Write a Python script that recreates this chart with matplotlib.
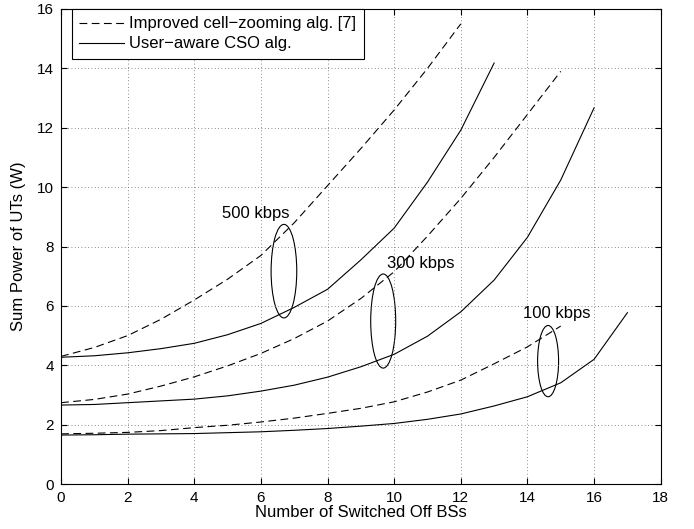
import numpy as np
import matplotlib.pyplot as plt
from matplotlib.patches import Ellipse

plt.rcParams['font.family'] = ['Liberation Sans', 'DejaVu Sans']
plt.rcParams['font.size'] = 12

# 500 kbps
x500_d = np.arange(0, 13)
y500_d = [4.3, 4.6, 5.0, 5.55, 6.2, 6.9, 7.7, 8.8, 10.05, 11.3, 12.6, 14.0, 15.5]
x500_s = np.arange(0, 14)
y500_s = [4.27, 4.32, 4.42, 4.56, 4.74, 5.03, 5.41, 5.95, 6.56, 7.55, 8.62, 10.17, 11.92, 14.18]

# 300 kbps
x300_d = np.arange(0, 16)
y300_d = [2.74, 2.85, 3.03, 3.3, 3.61, 3.98, 4.4, 4.9, 5.49, 6.25, 7.15, 8.35, 9.62, 11.0, 12.45, 13.9]
x300_s = np.arange(0, 17)
y300_s = [2.66, 2.68, 2.74, 2.8, 2.86, 2.97, 3.13, 3.33, 3.6, 3.95, 4.37, 4.98, 5.8, 6.87, 8.31, 10.24, 12.67]

# 100 kbps
x100_d = np.arange(0, 16)
y100_d = [1.69, 1.71, 1.74, 1.8, 1.9, 1.98, 2.09, 2.22, 2.38, 2.55, 2.77, 3.1, 3.5, 4.05, 4.62, 5.32]
x100_s = np.arange(0, 18)
y100_s = [1.65, 1.66, 1.68, 1.69, 1.7, 1.73, 1.76, 1.81, 1.87, 1.95, 2.04, 2.18, 2.36, 2.63, 2.94, 3.41, 4.2, 5.77]

fig = plt.figure(figsize=(6.94, 5.29), dpi=100)
ax = fig.add_axes([0.088, 0.085, 0.864, 0.898])

lw = 0.8
dash = (0, (7, 4))
ax.plot(x500_d, y500_d, color='k', lw=lw, linestyle=dash, label='Improved cell\u2212zooming alg. [7]')
ax.plot(x500_s, y500_s, color='k', lw=lw, label='User\u2212aware CSO alg.')
ax.plot(x300_d, y300_d, color='k', lw=lw, linestyle=dash)
ax.plot(x300_s, y300_s, color='k', lw=lw)
ax.plot(x100_d, y100_d, color='k', lw=lw, linestyle=dash)
ax.plot(x100_s, y100_s, color='k', lw=lw)

# ellipses marking each rate group
for cx, cy, w, h in [(6.69, 7.17, 0.77, 3.15), (9.67, 5.49, 0.75, 3.17), (14.62, 4.14, 0.63, 2.4)]:
    ax.add_patch(Ellipse((cx, cy), w, h, fill=False, edgecolor='k', lw=lw))

ax.text(4.82, 9.1, '500 kbps', va='center', ha='left')
ax.text(9.77, 7.44, '300 kbps', va='center', ha='left')
ax.text(13.87, 5.76, '100 kbps', va='center', ha='left')

ax.set_xlim(0, 18)
ax.set_ylim(0, 16)
ax.set_xticks(np.arange(0, 19, 2))
ax.set_yticks(np.arange(0, 17, 2))
ax.tick_params(direction='in', top=True, right=True, length=4, labelsize=11)
ax.tick_params(axis='x', pad=5)
ax.tick_params(axis='y', pad=5)
ax.grid(True, linestyle=(0, (1, 3)), color='0.4', lw=0.6)
ax.set_xlabel('Number of Switched Off BSs', labelpad=0)
ax.set_ylabel('Sum Power of UTs (W)', labelpad=8)

leg = ax.legend(loc='upper left', bbox_to_anchor=(0.018, 1.0), handlelength=2.7,
                fancybox=False, framealpha=1, edgecolor='k', borderaxespad=0,
                borderpad=0.45, labelspacing=0.3, handletextpad=0.3)
leg.get_frame().set_linewidth(0.8)

fig.savefig('out.png', dpi=100)
